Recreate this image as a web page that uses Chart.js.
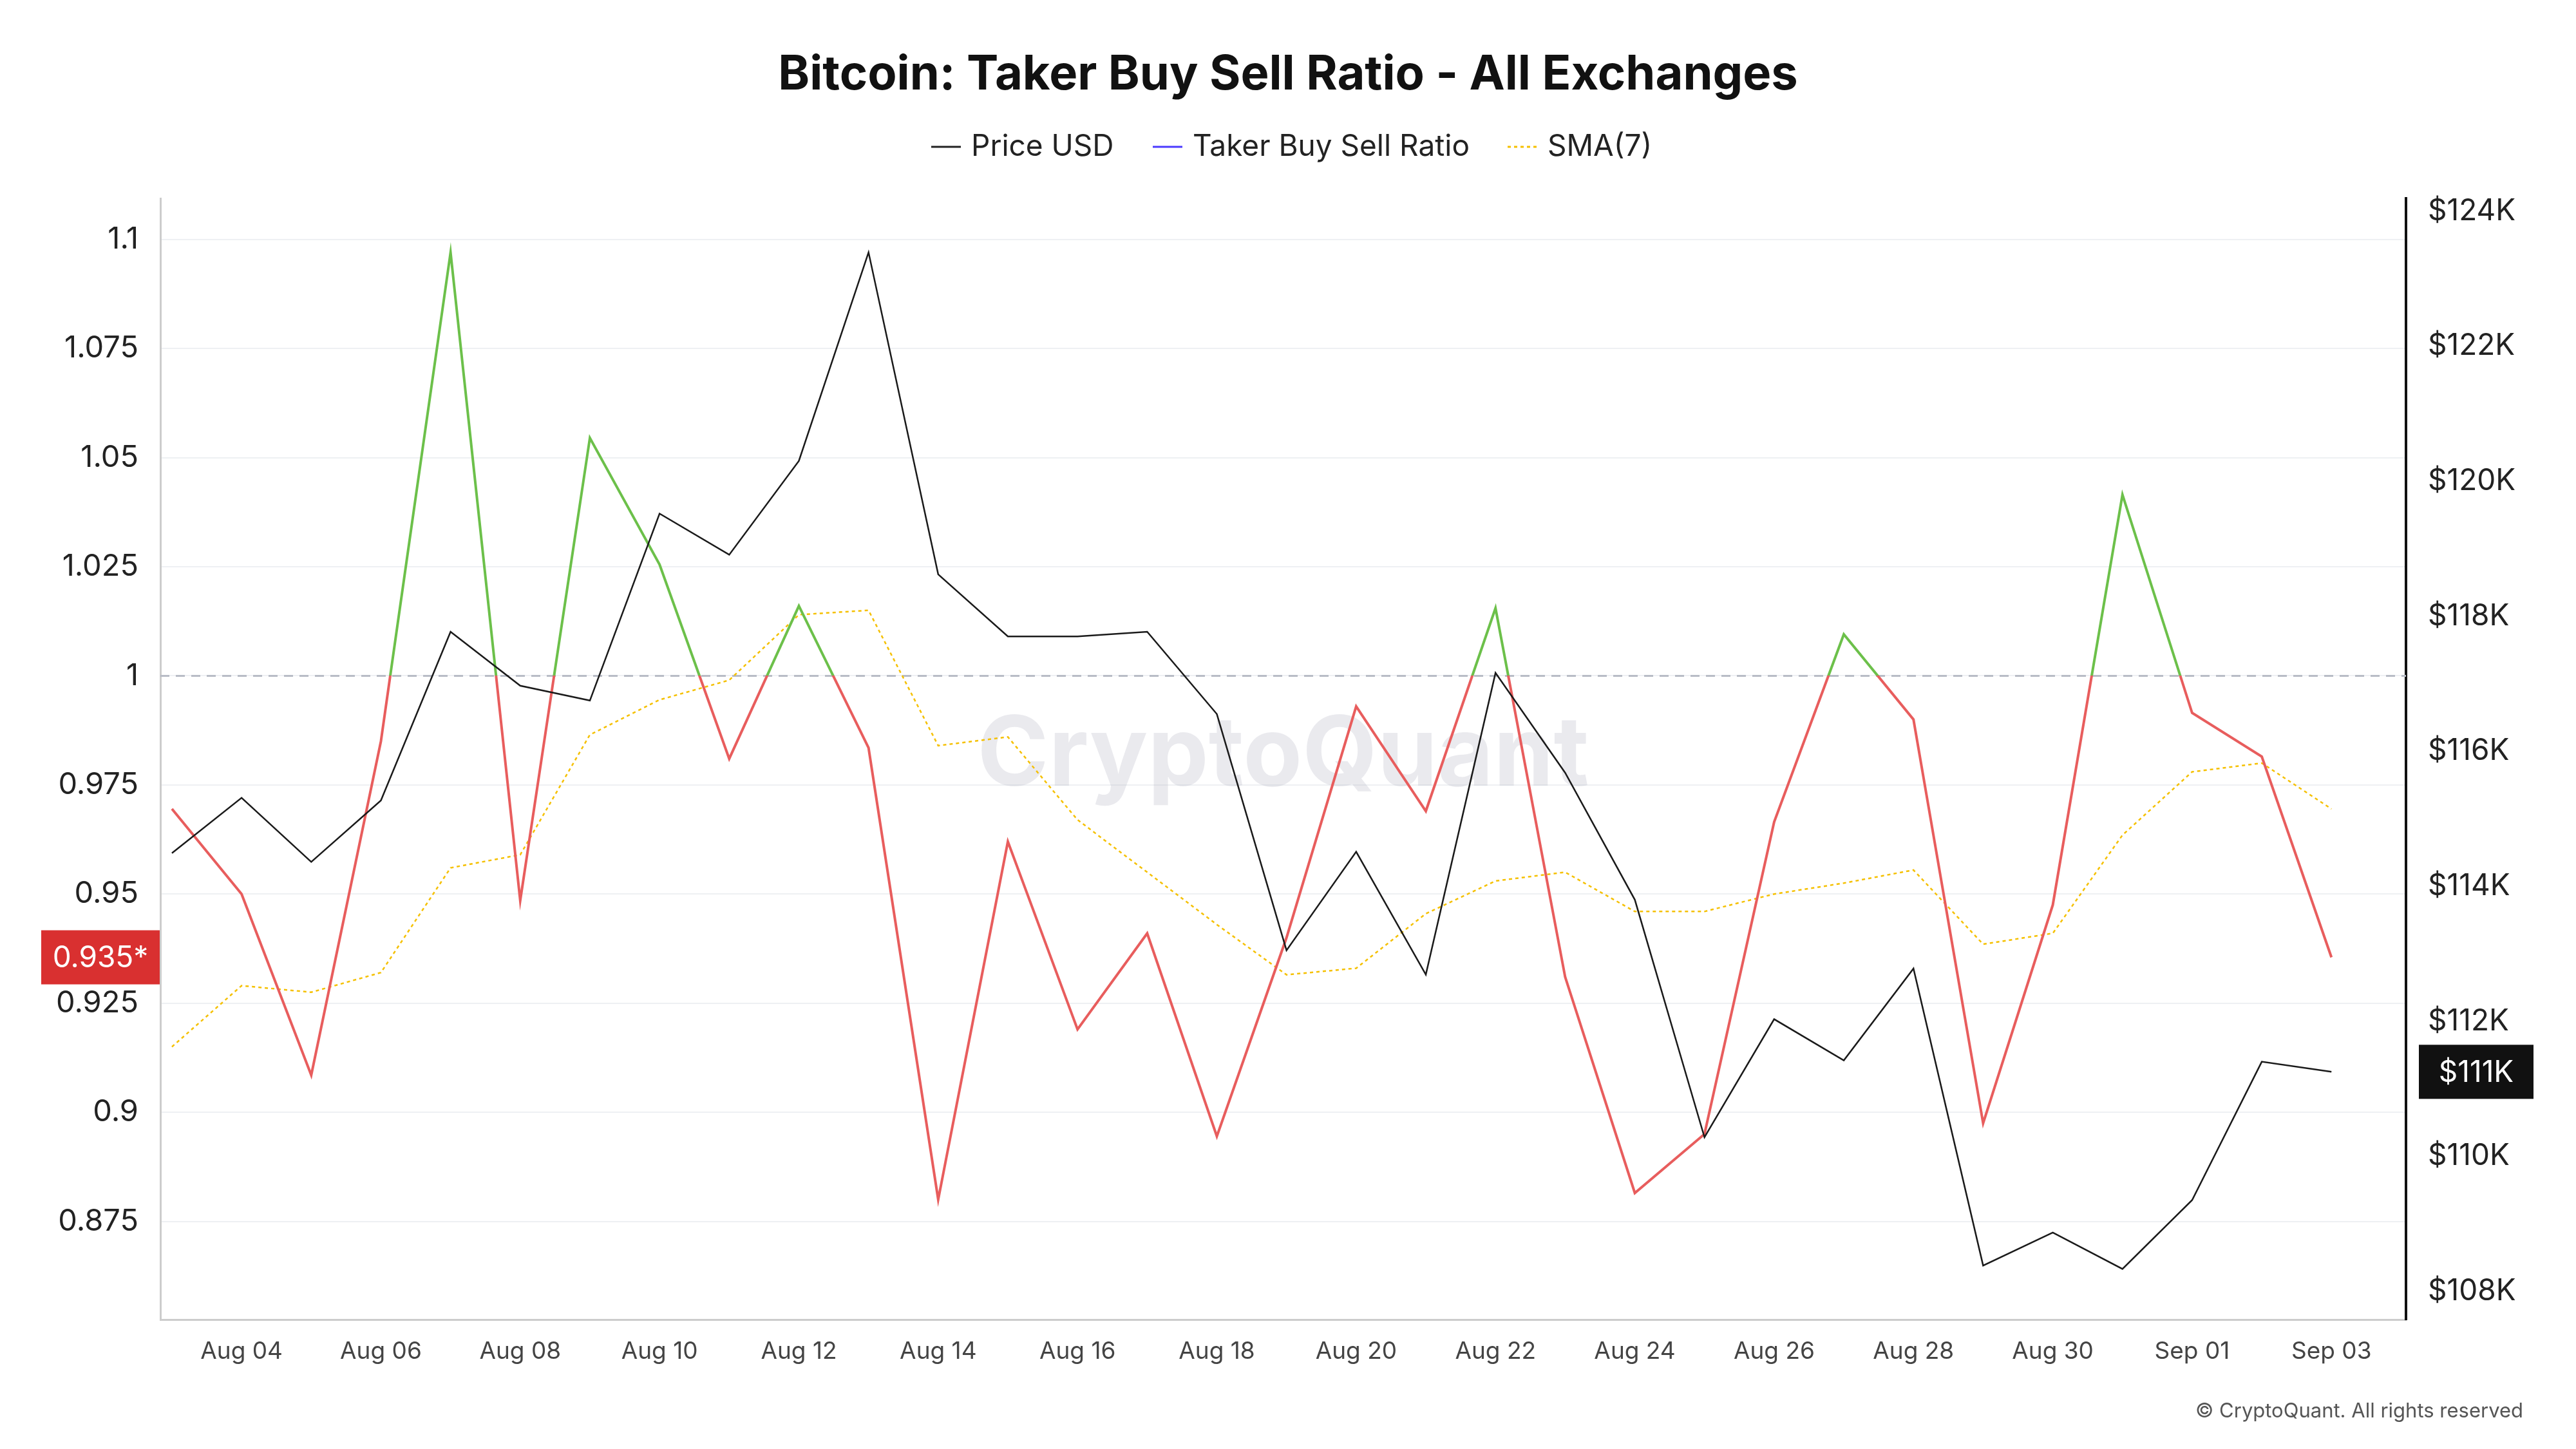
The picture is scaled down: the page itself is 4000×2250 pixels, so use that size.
<!DOCTYPE html>
<html><head><meta charset="utf-8">
<script src="https://cdn.jsdelivr.net/npm/chart.js@4.4.1/dist/chart.umd.min.js"></script>
<style>html,body{margin:0;padding:0;background:#fff}#w{width:4000px;height:2250px}</style>
</head><body><div id="w"><canvas id="c" width="4000" height="2250"></canvas></div>
<script>
const dates=['Aug 03','Aug 04','Aug 05','Aug 06','Aug 07','Aug 08','Aug 09','Aug 10','Aug 11','Aug 12','Aug 13','Aug 14','Aug 15','Aug 16','Aug 17','Aug 18','Aug 19','Aug 20','Aug 21','Aug 22','Aug 23','Aug 24','Aug 25','Aug 26','Aug 27','Aug 28','Aug 29','Aug 30','Aug 31','Sep 01','Sep 02','Sep 03'];
const ratio=[0.9695,0.950,0.9085,0.985,1.097,0.9485,1.0545,1.0255,0.981,1.016,0.9835,0.880,0.962,0.919,0.941,0.8945,0.940,0.993,0.969,1.0155,0.931,0.8815,0.895,0.9665,1.0095,0.990,0.8975,0.9475,1.0415,0.9915,0.9815,0.9355];
const price=[114.49,115.31,114.36,115.27,117.77,116.97,116.75,119.52,118.91,120.30,123.39,118.62,117.70,117.70,117.77,116.55,113.05,114.51,112.69,117.16,115.68,113.80,110.28,112.03,111.42,112.78,108.38,108.87,108.33,109.35,111.40,111.25];
const sma=[0.915,0.929,0.9275,0.932,0.956,0.959,0.9865,0.9945,0.999,1.014,1.015,0.984,0.986,0.967,0.955,0.943,0.9315,0.933,0.9455,0.953,0.955,0.946,0.946,0.950,0.9525,0.9555,0.9385,0.941,0.9635,0.978,0.980,0.9695];
const F='Inter, "Noto Sans", sans-serif';
const pts=a=>a.map((v,i)=>({x:i,y:v}));
function ratioColor(ctx){
  const ch=ctx.chart, a=ch.chartArea; if(!a) return '#e85d5d';
  const y1=ch.scales.y.getPixelForValue(1);
  const t=Math.min(Math.max((y1-a.top)/(a.bottom-a.top),0),1);
  const g=ch.ctx.createLinearGradient(0,a.top,0,a.bottom);
  g.addColorStop(0,'#6cc04a');g.addColorStop(t,'#6cc04a');g.addColorStop(t,'#e85d5d');g.addColorStop(1,'#e85d5d');
  return g;
}
const deco={id:'deco',
 beforeDatasetsDraw(ch){const c=ch.ctx,a=ch.chartArea,y=ch.scales.y.getPixelForValue(1);
  c.save();c.font='bold 150px '+F;c.fillStyle='rgba(180,180,195,0.28)';c.textAlign='center';c.textBaseline='middle';
  c.fillText('CryptoQuant',(a.left+a.right)/2,1175);
  c.strokeStyle='#b8bcc6';c.lineWidth=3;c.setLineDash([14,10]);c.beginPath();c.moveTo(a.left,y);c.lineTo(a.right,y);c.stroke();c.restore();},
 afterDraw(ch){const c=ch.ctx;c.save();
  c.fillStyle='#111';c.font='bold 74px '+F;c.textAlign='center';c.textBaseline='middle';
  c.fillText('Bitcoin: Taker Buy Sell Ratio - All Exchanges',2000,117);
  c.font='46px '+F;c.textAlign='left';
  const items=[['Price USD','#222',[]],['Taker Buy Sell Ratio','#4a3aff',[]],['SMA(7)','#f5c000',[5,5]]];
  const xs=[1446,1790,2341];
  items.forEach((it,i)=>{c.strokeStyle=it[1];c.lineWidth=3;c.setLineDash(it[2]);c.beginPath();c.moveTo(xs[i],228);c.lineTo(xs[i]+46,228);c.stroke();c.setLineDash([]);c.fillStyle='#222';c.fillText(it[0],xs[i]+62,228);});
  const yl=ch.scales.y.getPixelForValue(ratio[ratio.length-1]);
  c.fillStyle='#d93030';c.fillRect(64,yl-42,184,84);c.fillStyle='#fff';c.font='46px '+F;c.textAlign='center';c.fillText(ratio[ratio.length-1].toFixed(3).replace(/0$/,'')+'*',156,yl+2);
  const yr=ch.scales.y1.getPixelForValue(price[price.length-1]);
  c.fillStyle='#111';c.fillRect(3756,yr-42,178,84);c.fillStyle='#fff';c.fillText('$'+Math.round(price[price.length-1])+'K',3845,yr+2);
  c.fillStyle='#555';c.font='31px '+F;c.textAlign='right';c.fillText('© CryptoQuant. All rights reserved',3918,2192);
  c.restore();}};
new Chart(document.getElementById('c'),{type:'line',
 data:{datasets:[
  {label:'Price USD',data:pts(price),yAxisID:'y1',borderColor:'#1a1a1a',borderWidth:2.5,pointRadius:0,tension:0},
  {label:'Taker Buy Sell Ratio',data:pts(ratio),yAxisID:'y',borderColor:ratioColor,borderWidth:4,pointRadius:0,tension:0},
  {label:'SMA(7)',data:pts(sma),yAxisID:'y',borderColor:'#f5c000',borderWidth:2.5,borderDash:[5,5],pointRadius:0,tension:0}]},
 options:{responsive:false,animation:false,layout:{padding:{top:308,left:0,right:0,bottom:0}},
  plugins:{legend:{display:false},title:{display:false},tooltip:{enabled:false}},
  scales:{
   x:{type:'linear',min:-0.166,max:32.07,afterBuildTicks(s){s.ticks=[];for(let i=1;i<32;i+=2)s.ticks.push({value:i});},
      afterFit(s){s.height=201;},grid:{display:false,drawTicks:true,tickLength:14,color:'#ccc'},border:{color:'#ccc',width:3},
      ticks:{autoSkip:false,maxRotation:0,font:{size:37,family:F},color:'#444',padding:14,callback:v=>dates[v]||''}},
   y:{position:'left',min:0.8525,max:1.1094,afterBuildTicks(s){s.ticks=[];for(let i=0;i<=9;i++)s.ticks.push({value:+(0.875+i*0.025).toFixed(3)});},
      afterFit(s){s.width=249;},grid:{color:'#eef0f3',lineWidth:2,drawTicks:false},border:{color:'#ccc',width:3},
      ticks:{font:{size:47,family:F},color:'#222',padding:34,callback:v=>String(+v.toFixed(3))}},
   y1:{position:'right',min:107.58,max:124.19,afterBuildTicks(s){s.ticks=[];for(let v=108;v<=124;v+=2)s.ticks.push({value:v});},
      afterFit(s){s.width=264;},grid:{display:false,drawTicks:false},border:{color:'#111',width:4},
      ticks:{font:{size:46,family:F},color:'#222',padding:34,callback:v=>'$'+v+'K'}}}},
 plugins:[deco]});
</script></body></html>
